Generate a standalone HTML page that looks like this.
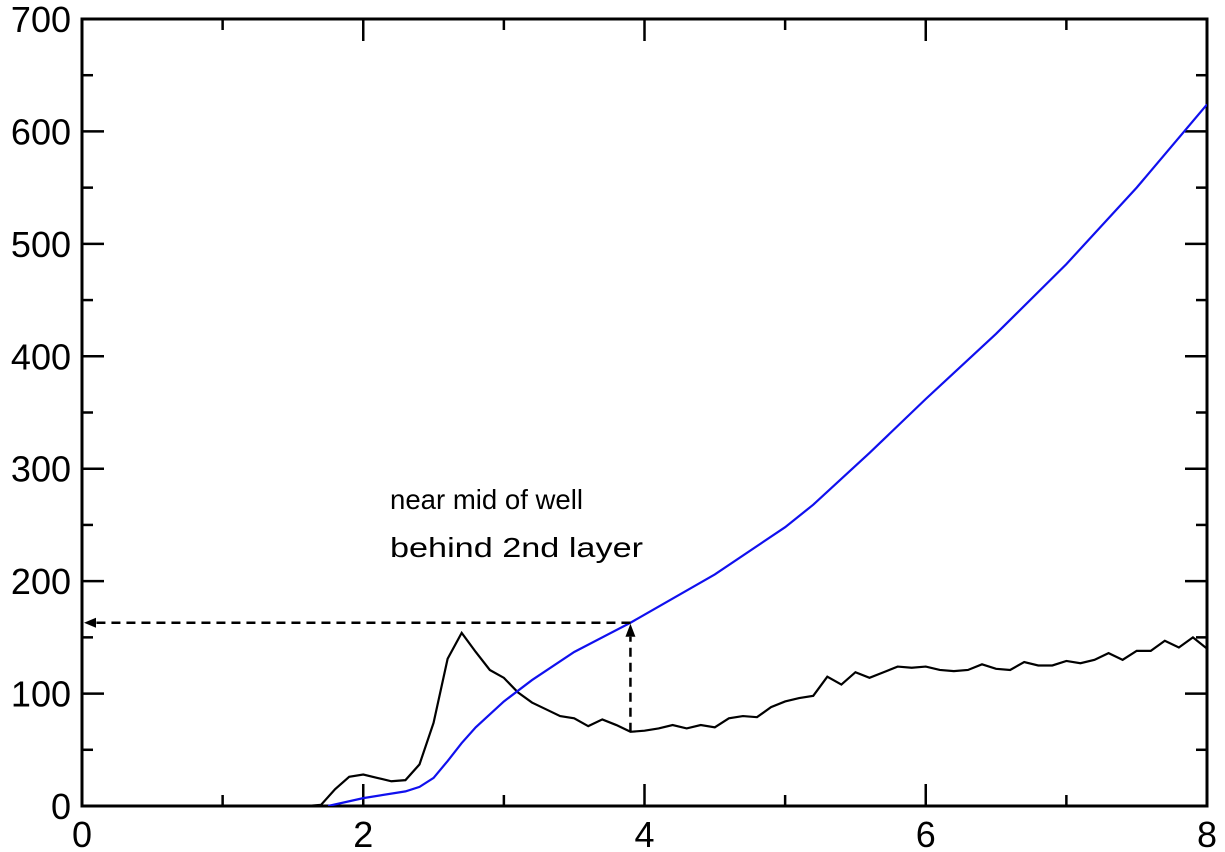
<!DOCTYPE html>
<html><head><meta charset="utf-8"><style>
html,body{margin:0;padding:0;background:#fff;}
svg{display:block;}
</style></head><body>
<svg id="chart" width="1225" height="852" xmlns="http://www.w3.org/2000/svg">
<g id="axes"></g>
<g id="series"></g>
<g id="annot"></g>
</svg>
<script>
const blackX = [1.6,1.7,1.8,1.9,2.0,2.1,2.2,2.3,2.4,2.5,2.6,2.7,2.8,2.9,3.0,3.1,3.2,3.3,3.4,3.5,3.6,3.7,3.8,3.9,4.0,4.1,4.2,4.3,4.4,4.5,4.6,4.7,4.8,4.9,5.0,5.1,5.2,5.3,5.4,5.5,5.6,5.7,5.8,5.9,6.0,6.1,6.2,6.3,6.4,6.5,6.6,6.7,6.8,6.9,7.0,7.1,7.2,7.3,7.4,7.5,7.6,7.7,7.8,7.9,8.0];
const blackY = [0,1,15,26,28,25,22,23,37,74,131,154,137,121,114,101,92,86,80,78,71,77,72,66,67,69,72,69,72,70,78,80,79,88,93,96,98,115,108,119,114,119,124,123,124,121,120,121,126,122,121,128,125,125,129,127,130,136,130,138,138,147,141,150,140];
const blueX = [1.75,2.0,2.3,2.4,2.5,2.6,2.7,2.8,3.0,3.2,3.5,3.9,4.5,5.0,5.2,5.6,6.0,6.5,7.0,7.5,8.0];
const blueY = [0,7,13,17,25,40,56,70,93,112,137,163,206,248,268,314,362,420,482,550,624];
const xTicks = [0,2,4,6,8];
const yTicks = [0,100,200,300,400,500,600,700];
const markX = 3.9, markY = 163;

const NS='http://www.w3.org/2000/svg';
const L=82,R=1207,T=19,B=806;
const xs=v=>L+(v-0)/8*(R-L);
const ys=v=>B-v/700*(B-T);
function el(tag,attrs,parent){const e=document.createElementNS(NS,tag);for(const k in attrs)e.setAttribute(k,attrs[k]);parent.appendChild(e);return e;}
const axes=document.getElementById('axes'),series=document.getElementById('series'),annot=document.getElementById('annot');

for(let v=0;v<=8;v+=1){
  const major=v%2===0, len=major?22:11, x=xs(v);
  const t1=el('line',{x1:x,y1:B,x2:x,y2:B-len,stroke:'#000','stroke-width':2.5},axes);
  
  
  const t2=el('line',{x1:x,y1:T,x2:x,y2:T+len,stroke:'#000','stroke-width':2.5},axes);
  
  
}
for(let v=0;v<=700;v+=50){
  const major=v%100===0, len=major?22:11, y=ys(v);
  const t1=el('line',{x1:L,y1:y,x2:L+len,y2:y,stroke:'#000','stroke-width':2.5},axes);
  
  
  const t2=el('line',{x1:R,y1:y,x2:R-len,y2:y,stroke:'#000','stroke-width':2.5},axes);
  
  
}
xTicks.forEach(v=>{
  const t=el('text',{x:xs(v),y:847,'text-anchor':'middle','font-family':'Liberation Sans, sans-serif','font-size':36},axes);
  t.textContent=v;
  
  
});
yTicks.forEach(v=>{
  const t=el('text',{x:71,y:ys(v)+13,'text-anchor':'end','font-family':'Liberation Sans, sans-serif','font-size':36},axes);
  t.textContent=v;
  
  
});
const frame=el('rect',{x:L,y:T,width:R-L,height:B-T,fill:'none',stroke:'#000','stroke-width':3},axes);



const defs=el('defs',{},document.getElementById('chart'));
const cp=el('clipPath',{id:'clip'},defs);
el('rect',{x:L,y:T,width:R-L,height:B-T},cp);
series.setAttribute('clip-path','url(#clip)');

const bl=el('polyline',{points:blackX.map((x,i)=>xs(x)+','+ys(blackY[i])).join(' '),fill:'none',stroke:'#000','stroke-width':2.2},series);


const bu=el('polyline',{points:blueX.map((x,i)=>xs(x)+','+ys(blueY[i])).join(' '),fill:'none',stroke:'#1010ee','stroke-width':2.2},series);



const mx=xs(markX), my=ys(markY), lowY=ys(blackY[blackX.indexOf(markX)]);
const h=el('line',{x1:mx,y1:my,x2:L+12,y2:my,stroke:'#000','stroke-width':2.5,'stroke-dasharray':'9,6'},annot);


const ha=el('polygon',{points:`${L+2},${my} ${L+14},${my-5} ${L+14},${my+5}`,fill:'#000'},annot);


const v=el('line',{x1:mx,y1:lowY,x2:mx,y2:my+14,stroke:'#000','stroke-width':2.5,'stroke-dasharray':'9,6'},annot);


const va=el('polygon',{points:`${mx},${my+1} ${mx-5},${my+14} ${mx+5},${my+14}`,fill:'#000'},annot);


['near mid of well','behind 2nd layer'].forEach((s,i)=>{
  const t=el('text',{x:390,y:509+i*48,'font-family':'Liberation Sans, sans-serif','font-size':27.5,textLength:i?253:193,lengthAdjust:'spacingAndGlyphs'},annot);
  t.textContent=s;
  
  
});
</script>
</body></html>
